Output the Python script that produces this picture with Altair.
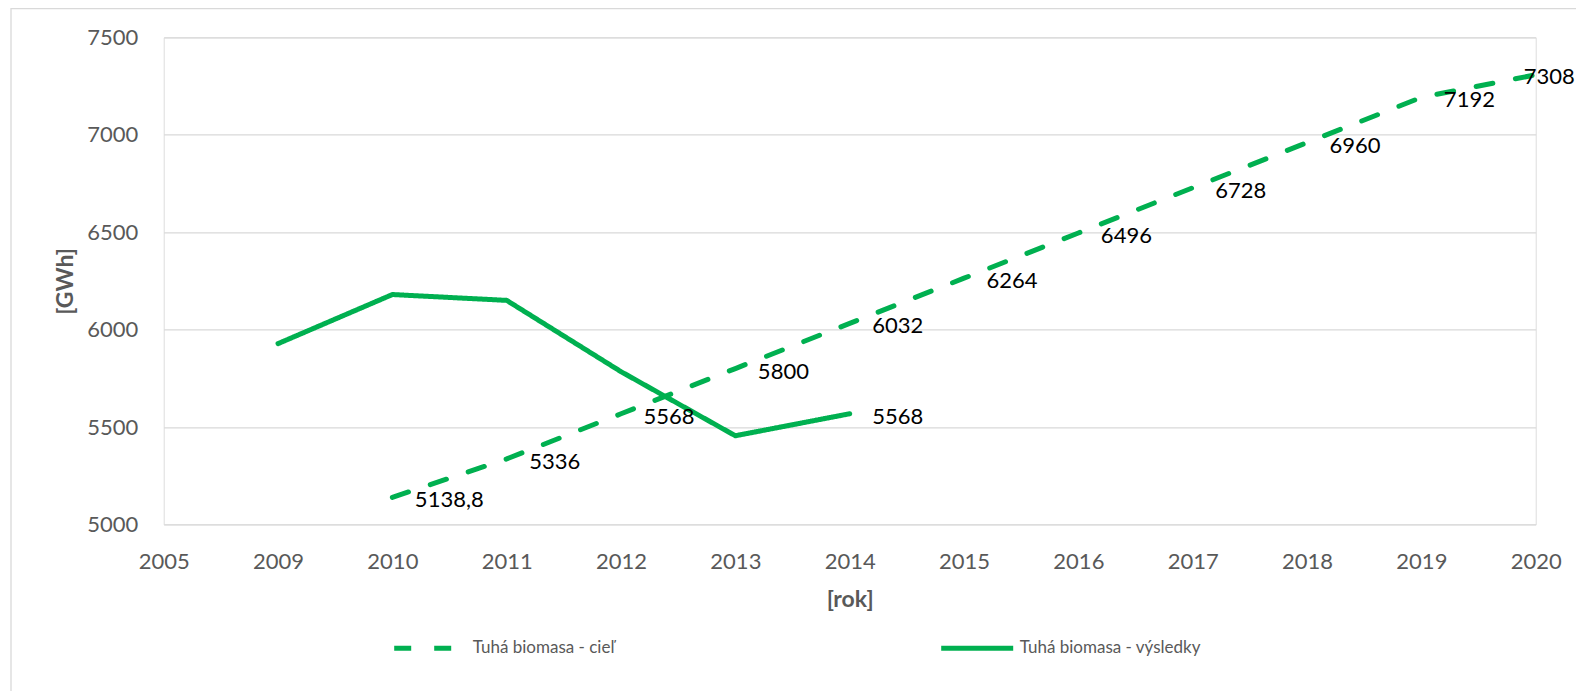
import altair as alt
import pandas as pd

# ---- data ----
categories = ["2005", "2009", "2010", "2011", "2012", "2013", "2014",
              "2015", "2016", "2017", "2018", "2019", "2020"]

target_name = "Tuhá biomasa - cieľ"
target_years = ["2010", "2011", "2012", "2013", "2014", "2015", "2016",
                "2017", "2018", "2019", "2020"]
target_values = [5138.8, 5336, 5568, 5800, 6032, 6264, 6496, 6728, 6960, 7192, 7308]
target_labels = ["5138,8", "5336", "5568", "5800", "6032", "6264", "6496",
                 "6728", "6960", "7192", "7308"]

actual_name = "Tuhá biomasa - výsledky"
actual_years = ["2009", "2010", "2011", "2012", "2013", "2014"]
actual_values = [5928, 6180, 6150, 5784, 5455, 5568]
actual_labels = ["", "", "", "", "", "5568"]

y_ticks = [5000, 5500, 6000, 6500, 7000, 7500]

# ---- tables ----
df_t = pd.DataFrame({"rok": target_years, "v": target_values, "lab": target_labels,
                     "s": target_name, "last": [0] * (len(target_years) - 1) + [1]})
df_a = pd.DataFrame({"rok": actual_years, "v": actual_values, "lab": actual_labels,
                     "s": actual_name, "last": [0] * (len(actual_years) - 1) + [1]})
df = pd.concat([df_t, df_a], ignore_index=True)

GREEN = "#00B050"
GRAY = "#595959"
FONT = "Lato"

W, H = 1372, 487

x = alt.X("rok:O",
          scale=alt.Scale(type="point", domain=categories, padding=0),
          axis=alt.Axis(title="[rok]", labelAngle=0, labelFontSize=22, labelColor=GRAY,
                        labelFont=FONT, labelPadding=27, domain=False, ticks=False,
                        grid=False, titleFont=FONT, titleFontSize=23, titleColor=GRAY,
                        titleFontWeight="bold", titleBaseline="middle",
                        titleY=75, titleX=W / 2))
y = alt.Y("v:Q",
          scale=alt.Scale(domain=[5000, 7500], nice=False, zero=False),
          axis=alt.Axis(title="[GWh]", values=y_ticks, format="d", labelFontSize=22,
                        labelColor=GRAY, labelFont=FONT, labelPadding=26, domain=False,
                        ticks=False, grid=True, gridColor="#d9d9d9", gridWidth=1.3,
                        titleFont=FONT, titleFontSize=23, titleColor=GRAY,
                        titleFontWeight="bold", titleAngle=-90, titleAlign="center",
                        titleBaseline="alphabetic", titleX=-91, titleY=H / 2))

legend = alt.Legend(title=None, orient="none", direction="horizontal",
                    legendX=228, legendY=572,
                    symbolType="stroke", symbolSize=5184,
                    symbolStrokeWidth=5, labelFont=FONT, labelFontSize=17,
                    labelColor=GRAY, labelOffset=4, labelLimit=400,
                    columnPadding=316, padding=0)

color = alt.Color("s:N",
                  scale=alt.Scale(domain=[target_name, actual_name], range=[GREEN, GREEN]),
                  legend=legend)
dash = alt.StrokeDash("s:N",
                      scale=alt.Scale(domain=[target_name, actual_name],
                                      range=[[17, 23], [1, 0]]),
                      legend=legend)

frame = alt.Chart(pd.DataFrame({"a": [0]})).mark_rect(
    fill=None, stroke="#d9d9d9", strokeWidth=1.3
).encode(x=alt.value(-152.7), y=alt.value(-28.9), x2=alt.value(W + 200), y2=alt.value(H + 300))

lines = alt.Chart(df).mark_line(strokeWidth=5, strokeCap="round", strokeJoin="round").encode(
    x=x, y=y, color=color, strokeDash=dash, detail="s:N")

lab_t = alt.Chart(df_t).transform_filter("datum.last == 0").mark_text(
    align="left", baseline="middle", dx=22.5, dy=3, fontSize=22, font=FONT, color="#000000"
).encode(x=x, y=y, text="lab:N")

lab_t_last = alt.Chart(df_t).transform_filter("datum.last == 1").mark_text(
    align="left", baseline="middle", dx=-12, dy=2, fontSize=22, font=FONT, color="#000000"
).encode(x=x, y=y, text="lab:N")

lab_a = alt.Chart(df_a).transform_filter("datum.last == 1").mark_text(
    align="left", baseline="middle", dx=22.5, dy=3, fontSize=22, font=FONT, color="#000000"
).encode(x=x, y=y, text="lab:N")

chart = alt.layer(frame, lines, lab_t, lab_t_last, lab_a).properties(
    width=W, height=H,
    autosize=alt.AutoSizeParams(type="none"),
    padding={"left": 155.7, "top": 29.4, "right": 40.3, "bottom": 166.6},
).configure_view(stroke=None).configure(background="white")

chart.save("out.html", embed_options={"renderer": "svg", "actions": False})
